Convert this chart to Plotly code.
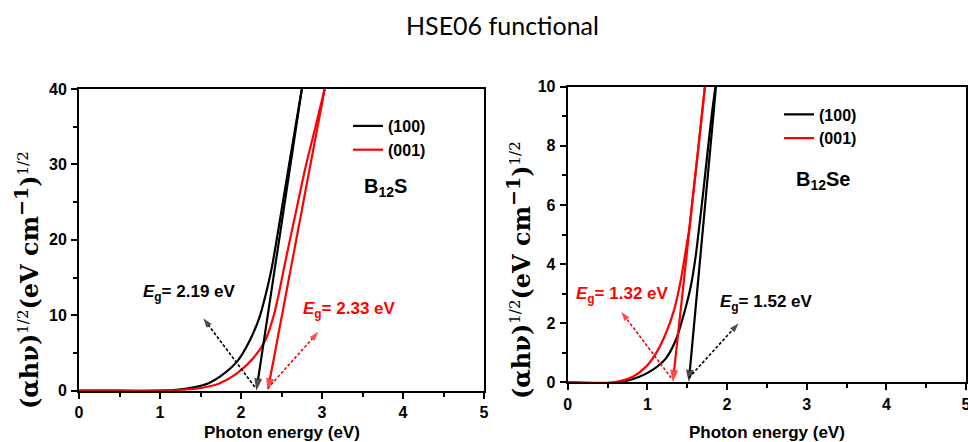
import plotly.graph_objects as go

# ---------------- data ----------------
# B12S  (left panel)
s_energy_100 = [0, 0.5, 1.0, 1.2, 1.4, 1.6, 1.74, 1.95, 2.11, 2.23, 2.32, 2.38, 2.44, 2.52, 2.60, 2.68, 2.757]
s_alpha_100 = [0, 0, 0, 0.1, 0.4, 1.0, 1.86, 3.85, 6.7, 9.8, 13.4, 16.3, 20.0, 25.2, 30.4, 35.5, 40.4]
s_energy_001 = [0, 0.5, 1.0, 1.2, 1.4, 1.6, 1.74, 1.95, 2.15, 2.30, 2.40, 2.47, 2.53, 2.60, 2.68, 2.80, 2.92, 3.037]
s_alpha_001 = [0, 0, 0, 0.05, 0.2, 0.55, 1.0, 2.3, 4.3, 6.7, 9.8, 13.0, 16.2, 19.8, 23.8, 29.8, 35.0, 40.2]
s_gap = [2.19, 2.33]            # (100), (001)
s_fit_top_e = [2.757, 3.037]
s_fit_top_a = [40.4, 40.2]

# B12Se (right panel)
se_energy_100 = [0, 0.65, 0.90, 1.066, 1.233, 1.357, 1.461, 1.544, 1.606, 1.64, 1.70, 1.76, 1.815, 1.866]
se_alpha_100 = [0, 0, 0.19, 0.42, 0.81, 1.43, 2.33, 3.23, 4.25, 5.0, 6.4, 7.9, 9.2, 10.2]
se_energy_001 = [0, 0.57, 0.817, 0.984, 1.108, 1.233, 1.336, 1.42, 1.49, 1.523, 1.60, 1.66, 1.725]
se_alpha_001 = [0, 0, 0.19, 0.53, 0.98, 1.66, 2.45, 3.46, 4.59, 5.15, 6.95, 8.4, 10.05]
se_gap = [1.52, 1.32]           # (100), (001)
se_fit_top_e = [1.863, 1.722]
se_fit_top_a = [10.05, 10.0]

series_names = ["(100)", "(001)"]
series_colors = ["black", "#ff0000"]

# ---------------- figure ----------------
fig = go.Figure()
W, H = 968, 442

def px(v):
    return v / W

def py(v):
    return 1 - v / H

# curves
panels = [
    ("x", "y", [s_energy_100, s_energy_001], [s_alpha_100, s_alpha_001], "legend"),
    ("x2", "y2", [se_energy_100, se_energy_001], [se_alpha_100, se_alpha_001], "legend2"),
]
for xa, ya, es, als, lg in panels:
    for i in range(2):
        fig.add_trace(go.Scatter(
            x=es[i], y=als[i], mode="lines", name=series_names[i],
            line=dict(color=series_colors[i], width=2.2, shape="spline", smoothing=0.8),
            xaxis=xa, yaxis=ya, legend=lg, cliponaxis=False, showlegend=True,
        ))

# tangent (fit) lines with arrowheads at the gap energy
fits = [
    ("x", "y", s_gap, s_fit_top_e, s_fit_top_a),
    ("x2", "y2", se_gap, se_fit_top_e, se_fit_top_a),
]
for xa, ya, gaps, te, ta in fits:
    for i in range(2):
        fig.add_trace(go.Scatter(
            x=[te[i], gaps[i]], y=[ta[i], 0], mode="lines+markers",
            line=dict(color=series_colors[i], width=2.2),
            marker=dict(symbol="arrow", size=[0, 13], angleref="previous",
                        color=series_colors[i], line=dict(width=0)),
            xaxis=xa, yaxis=ya, cliponaxis=False, showlegend=False,
        ))

# dashed pointer arrows (tail near gap, head toward label)
dashed = [
    ("x", "y", [2.17, 1.535], [0.5, 9.6], series_colors[0]),
    ("x", "y", [2.33, 2.955], [0.3, 7.8], series_colors[1]),
    ("x2", "y2", [1.30, 0.672], [0.15, 2.39], series_colors[1]),
    ("x2", "y2", [1.52, 2.146], [0.15, 2.0], series_colors[0]),
]
for xa, ya, xs, ys, c in dashed:
    fig.add_trace(go.Scatter(
        x=xs, y=ys, mode="lines+markers",
        line=dict(color=c, width=1.6, dash="3px,2px"),
        marker=dict(symbol="arrow", size=[0, 10], angleref="previous",
                    color=c, line=dict(width=0)),
        xaxis=xa, yaxis=ya, cliponaxis=False, showlegend=False,
    ))

sans = "Liberation Sans"
serif = "DejaVu Serif"
tickfont = dict(family=sans, size=16, color="black", weight="bold")

def axis(domain, rng, dtick, mdtick, anchor, standoff):
    return dict(domain=domain, range=rng, anchor=anchor, showline=True, linewidth=2,
                linecolor="black", mirror=True, ticks="outside", ticklen=6, tickwidth=2,
                tickcolor="black", dtick=dtick, tick0=0, showgrid=False, zeroline=False,
                tickfont=tickfont, layer="below traces", ticklabelstandoff=standoff,
                automargin=False, ticklabeloverflow="allow",
                minor=dict(dtick=mdtick, tick0=0, ticks="outside", ticklen=4, tickwidth=2,
                           tickcolor="black", showgrid=False))

legfont = dict(family=sans, size=16, color="black", weight="bold")
fig.update_layout(
    width=W, height=H, margin=dict(l=0, r=0, t=0, b=0, pad=0, autoexpand=False),
    paper_bgcolor="white", plot_bgcolor="white",
    xaxis=axis([px(79), px(484)], [0, 5], 1, 0.5, "y", 0),
    yaxis=axis([py(390.7), py(89)], [0, 40], 10, 5, "x", 1),
    xaxis2=axis([px(567.7), px(966)], [0, 5], 1, 0.5, "y2", 0),
    yaxis2=axis([py(382.3), py(86.7)], [0, 10], 2, 1, "x2", 1),
    legend=dict(x=px(348), y=py(109), xanchor="left", yanchor="top",
                bgcolor="rgba(0,0,0,0)", font=legfont, itemwidth=30, tracegroupgap=0),
    legend2=dict(x=px(779), y=py(97.5), xanchor="left", yanchor="top",
                 bgcolor="rgba(0,0,0,0)", font=legfont, itemwidth=30, tracegroupgap=0),
    showlegend=True,
)

def note(text, x, y, xref, yref, font, angle=0):
    return dict(text=text, x=x, y=y, xref=xref, yref=yref, showarrow=False,
                xanchor="center", yanchor="middle", textangle=angle, font=font)

ann = []
ann.append(note("HSE06 functional", px(502.5), py(25), "paper", "paper",
                dict(family="Lato", size=25, color="black")))
for xd in ["x domain", "x2 domain"]:
    ann.append(note("Photon energy (eV)", 0.5, py(432), xd, "paper",
                    dict(family=sans, size=17, color="black", weight="bold")))
half = "<sup><span style='font-size:15px;font-weight:normal'>1/2</span></sup>"
minus1 = "<sup><span style='font-size:19px'>−1</span></sup>"
ytitle = f"(αhν){half}(eV cm{minus1}){half}"
for xx, yy in [(27, 280), (519, 270)]:
    ann.append(note(ytitle, px(xx), py(yy), "paper", "paper",
                    dict(family=serif, size=24, color="black", weight="bold"), angle=-90))
lab = [
    ("x", "y", 1.36, 12.96, "2.19", series_colors[0]),
    ("x", "y", 3.345, 10.7, "2.33", series_colors[1]),
    ("x2", "y2", 0.69, 2.95, "1.32", series_colors[1]),
    ("x2", "y2", 2.498, 2.67, "1.52", series_colors[0]),
]
for xa, ya, xx, yy, v, c in lab:
    ann.append(note(f"<i>E</i><sub>g</sub>= {v} eV", xx, yy, xa, ya,
                    dict(family=sans, size=17, color=c, weight="bold")))
ann.append(note("B<sub>12</sub>S", 3.79, 26.9, "x", "y",
                dict(family=sans, size=20, color="black", weight="bold")))
ann.append(note("B<sub>12</sub>Se", 3.217, 6.84, "x2", "y2",
                dict(family=sans, size=20, color="black", weight="bold")))
fig.update_layout(annotations=ann)

fig.write_html("out.html")
